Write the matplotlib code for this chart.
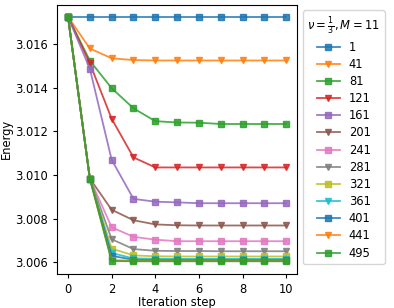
import matplotlib
matplotlib.use("Agg")
import matplotlib.pyplot as plt
import numpy as np

plt.rcParams['font.size'] = 8.3

steps = list(range(11))
labels = ["1", "41", "81", "121", "161", "201", "241", "281", "321", "361", "401", "441", "495"]
E0 = 3.01725
s_1 = [E0] * 11
s_41 = [E0, 3.01580, 3.01535, 3.01527, 3.01525, 3.01525, 3.01525, 3.01525, 3.01525, 3.01525, 3.01525]
s_81 = [E0, 3.01524, 3.01398, 3.01306, 3.01247, 3.01241, 3.01240, 3.01234, 3.01234, 3.01234, 3.01234]
s_121 = [E0, 3.01512, 3.01258, 3.01081, 3.01035, 3.01035, 3.01035, 3.01035, 3.01035, 3.01035, 3.01035]
s_161 = [E0, 3.01487, 3.01070, 3.00891, 3.00878, 3.00875, 3.00871, 3.00871, 3.00871, 3.00871, 3.00871]
s_201 = [E0, 3.00984, 3.00841, 3.00793, 3.00774, 3.00770, 3.00769, 3.00769, 3.00769, 3.00769, 3.00769]
s_241 = [E0, 3.00984, 3.00761, 3.00717, 3.00704, 3.00697, 3.00697, 3.00697, 3.00697, 3.00697, 3.00697]
s_281 = [E0, 3.00984, 3.00706, 3.00661, 3.00653, 3.00652, 3.00652, 3.00651, 3.00651, 3.00651, 3.00651]
s_321 = [E0, 3.00984, 3.00663, 3.00632, 3.00628, 3.00627, 3.00627, 3.00627, 3.00627, 3.00627, 3.00627]
s_361 = [E0, 3.00984, 3.00643, 3.00618, 3.00617, 3.00616, 3.00616, 3.00616, 3.00616, 3.00616, 3.00616]
s_401 = [E0, 3.00984, 3.00630, 3.00612, 3.00611, 3.00611, 3.00611, 3.00611, 3.00611, 3.00611, 3.00611]
s_441 = [E0, 3.00984, 3.00610, 3.00608, 3.00608, 3.00608, 3.00608, 3.00608, 3.00608, 3.00608, 3.00608]
s_495 = [E0, 3.00984, 3.00606, 3.00605, 3.00605, 3.00605, 3.00605, 3.00605, 3.00605, 3.00605, 3.00605]
series = [s_1, s_41, s_81, s_121, s_161, s_201, s_241, s_281, s_321, s_361, s_401, s_441, s_495]

fig = plt.figure(figsize=(3.94, 3.08), dpi=100)
ax = fig.add_axes([0.145, 0.112, 0.609, 0.873])
for i, (lab, ys) in enumerate(zip(labels, series)):
    mk = 's' if i % 2 == 0 else 'v'
    ax.plot(steps, ys, marker=mk, markersize=4.6, linewidth=1.3, alpha=0.85, label=lab)

ax.set_xlabel("Iteration step", labelpad=0.5)
ax.set_ylabel("Energy", labelpad=2)
ax.set_xticks([0, 2, 4, 6, 8, 10])
ax.set_yticks([3.006, 3.008, 3.010, 3.012, 3.014, 3.016])
ax.yaxis.set_major_formatter(matplotlib.ticker.FormatStrFormatter('%.3f'))
ax.tick_params(length=3)
ax.legend(title=r"$\nu=\frac{1}{3}, M=11$", loc="upper left", bbox_to_anchor=(1.0, 1.0),
          borderaxespad=0.5, handlelength=2.0, labelspacing=0.36)
fig.savefig("out.png", dpi=100)
